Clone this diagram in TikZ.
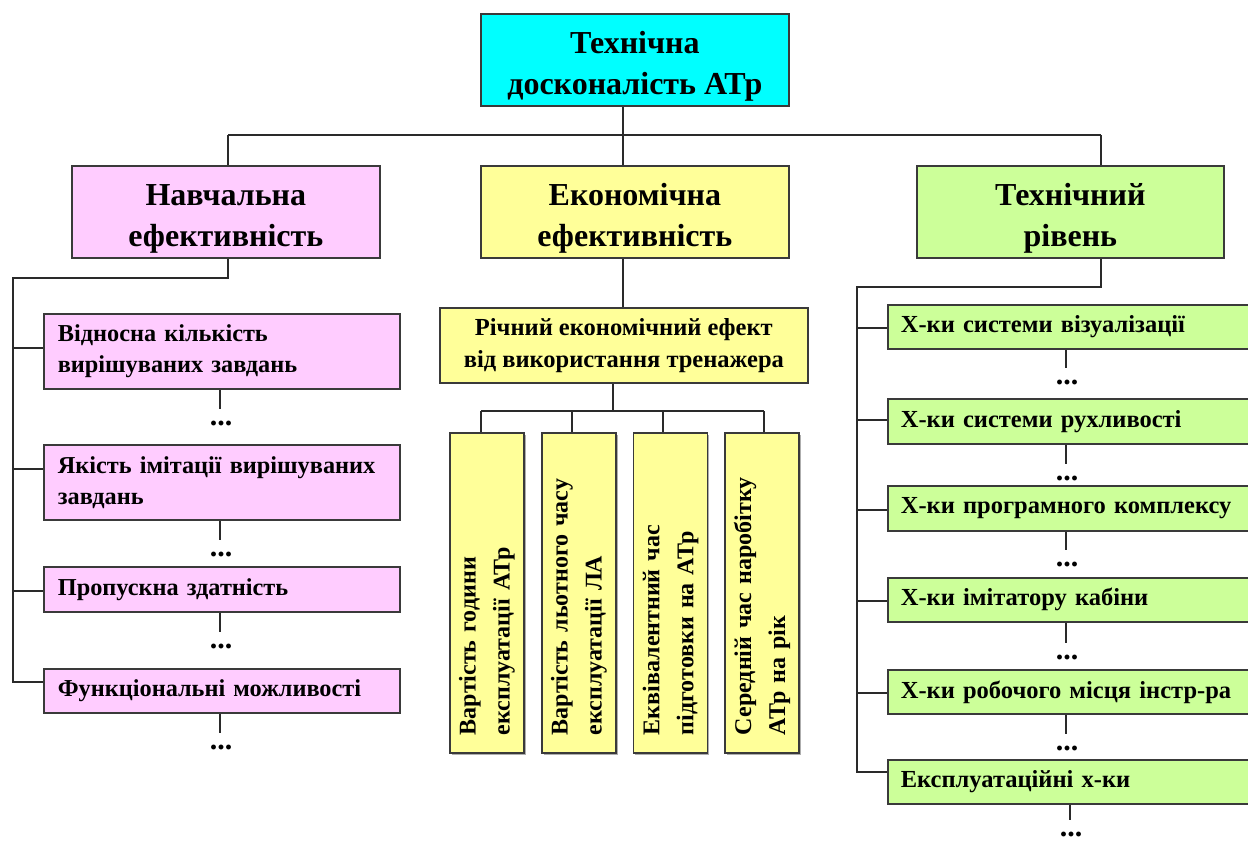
\documentclass[tikz,border=0pt]{standalone}
\usepackage{fontspec}
\setmainfont{Liberation Serif}
\usetikzlibrary{calc,shadows}
\definecolor{cyanbox}{HTML}{00FFFF}
\definecolor{pinkbox}{HTML}{FFCCFF}
\definecolor{yelbox}{HTML}{FFFF99}
\definecolor{grnbox}{HTML}{CCFF99}
\definecolor{edgec}{HTML}{3A3A3A}
\definecolor{linec}{HTML}{2A2A2A}
\newcommand{\bigtext}[2]{\raisebox{-6pt}[\height][\depth]{\begin{tabular}{@{}c@{}}#1\\#2\end{tabular}}}
\tikzset{
  box/.style={draw=edgec, line width=1.7pt, inner ysep=0pt,
    drop shadow={shadow xshift=1.5pt, shadow yshift=-1.5pt, fill=black!45, opacity=0.7}},
  bigbox/.style={box, anchor=north west, minimum width=308pt, minimum height=92pt,
    align=center, font=\fontsize{32}{41}\selectfont\bfseries},
  subbox/.style={box, anchor=north west, align=left, inner xsep=14pt, text width=328pt,
    minimum width=356pt, font=\fontsize{24.3}{31}\selectfont\bfseries, fill=pinkbox},
  rbox/.style={box, anchor=north west, align=left, inner xsep=13pt, text width=350pt,
    minimum width=376pt, font=\fontsize{24.5}{31}\selectfont\bfseries, fill=grnbox},
  vbox/.style={box, rotate=90, anchor=center, minimum width=320pt, minimum height=74pt,
    inner xsep=18pt, text width=284pt, align=left, fill=yelbox,
    font=\fontsize{24}{34}\selectfont\bfseries},
  dotsn/.style={inner sep=0pt, outer ysep=12pt, font=\fontsize{30}{30}\selectfont\bfseries},
  conn/.style={draw=linec, line width=1.8pt}
}
\begin{document}
\begin{tikzpicture}[x=1pt,y=-1pt]
\useasboundingbox (0,0) rectangle (1248,841);
% top level
\node[bigbox, fill=cyanbox] (top) at (480,13) {\bigtext{Технічна}{досконалість АТр}};
\node[bigbox, fill=pinkbox] (nav) at (71,165) {\bigtext{Навчальна}{ефективність}};
\node[bigbox, fill=yelbox] (eco) at (480,165) {\bigtext{Економічна}{ефективність}};
\node[bigbox, fill=grnbox, minimum width=307pt] (tech) at (916,165) {\bigtext{Технічний}{рівень}};
\coordinate (cx) at (623,0);
\coordinate (jTop) at (623,135);
\coordinate (jL) at (228,135);
\coordinate (jR) at (1101,135);
\draw[conn] (top.south -| cx) -- (jTop);
\draw[conn] (jL) -- (jR);
\draw[conn] (jL) -- (nav.north -| jL);
\draw[conn] (jTop) -- (eco.north -| jTop);
\draw[conn] (jR) -- (tech.north -| jR);
% left branch
\node[subbox, minimum height=75pt] (l1) at (43,313) {Відносна кількість\\вирішуваних завдань};
\node[subbox, minimum height=75pt] (l2) at (43,444) {Якість імітації вирішуваних\\завдань};
\node[subbox, minimum height=45pt] (l3) at (43,566) {Пропускна здатність};
\node[subbox, minimum height=44pt] (l4) at (43,668) {Функціональні можливості};
\coordinate (lA) at (228,278);
\coordinate (lB) at (13,278);
\coordinate (l1c) at (43,348);
\coordinate (l2c) at (43,469);
\coordinate (l3c) at (43,591);
\coordinate (l4c) at (43,682);
\draw[conn] (nav.south -| lA) -- (lA) -- (lB) |- (l4c);
\draw[conn] (lB |- l1c) -- (l1c);
\draw[conn] (lB |- l2c) -- (l2c);
\draw[conn] (lB |- l3c) -- (l3c);
\coordinate (lx) at (220,0);
\node[dotsn] (dl1) at (221,423) {...};
\node[dotsn] (dl2) at (221,554) {...};
\node[dotsn] (dl3) at (221,646) {...};
\node[dotsn] (dl4) at (221,747) {...};
\draw[conn] (l1.south -| lx) -- (dl1.north -| lx);
\draw[conn] (l2.south -| lx) -- (dl2.north -| lx);
\draw[conn] (l3.south -| lx) -- (dl3.north -| lx);
\draw[conn] (l4.south -| lx) -- (dl4.north -| lx);
% middle branch
\node[box, anchor=north west, fill=yelbox, minimum width=368pt, minimum height=75pt,
  align=center, font=\fontsize{24.5}{32}\selectfont\bfseries] (ri) at (439,307)
  {Річний економічний ефект\\від використання тренажера};
\draw[conn] (eco.south -| jTop) -- (ri.north -| jTop);
\node[vbox] (v1) at (487,593) {Вартість години\\експлуатації АТр};
\node[vbox] (v2) at (579,593) {Вартість льотного часу\\експлуатації ЛА};
\node[vbox] (v3) at (670.5,593) {Еквівалентний час\\підготовки на АТр};
\node[vbox] (v4) at (762,593) {Середній час наробітку\\АТр на рік};
\coordinate (mx) at (613,411);
\coordinate (m1) at (481,411);
\coordinate (m2) at (572,411);
\coordinate (m3) at (663,411);
\coordinate (m4) at (764,411);
\draw[conn] (ri.south -| mx) -- (mx);
\draw[conn] (m1) -- (m4);
\draw[conn] (m1) -- (m1 |- v1.east);
\draw[conn] (m2) -- (m2 |- v2.east);
\draw[conn] (m3) -- (m3 |- v3.east);
\draw[conn] (m4) -- (m4 |- v4.east);
% right branch
\node[rbox, minimum height=44pt] (r1) at (887,304) {Х-ки системи візуалізації};
\node[rbox, minimum height=45pt] (r2) at (887,398) {Х-ки системи рухливості};
\node[rbox, minimum height=45pt] (r3) at (887,485) {Х-ки програмного комплексу};
\node[rbox, minimum height=44pt] (r4) at (887,577) {Х-ки імітатору кабіни};
\node[rbox, minimum height=44pt] (r5) at (887,669) {Х-ки робочого місця інстр-ра};
\node[rbox, minimum height=44pt] (r6) at (887,759) {Експлуатаційні х-ки};
\coordinate (rA) at (1101,287);
\coordinate (rB) at (857,287);
\coordinate (r1c) at (887,328);
\coordinate (r2c) at (887,420);
\coordinate (r3c) at (887,510);
\coordinate (r4c) at (887,601);
\coordinate (r5c) at (887,693);
\coordinate (r6c) at (887,772);
\draw[conn] (tech.south -| rA) -- (rA) -- (rB) |- (r6c);
\foreach \n in {r1c,r2c,r3c,r4c,r5c}{
  \draw[conn] (rB |- \n) -- (\n);
}
\coordinate (rx) at (1066,0);
\coordinate (rx6) at (1070,0);
\node[dotsn] (dr1) at (1067,382) {...};
\node[dotsn] (dr2) at (1067,478) {...};
\node[dotsn] (dr3) at (1067,564) {...};
\node[dotsn] (dr4) at (1067,657) {...};
\node[dotsn] (dr5) at (1067,748) {...};
\node[dotsn] (dr6) at (1071,834) {...};
\draw[conn] (r1.south -| rx) -- (dr1.north -| rx);
\draw[conn] (r2.south -| rx) -- (dr2.north -| rx);
\draw[conn] (r3.south -| rx) -- (dr3.north -| rx);
\draw[conn] (r4.south -| rx) -- (dr4.north -| rx);
\draw[conn] (r5.south -| rx) -- (dr5.north -| rx);
\draw[conn] (r6.south -| rx6) -- (dr6.north -| rx6);
\end{tikzpicture}
\end{document}
